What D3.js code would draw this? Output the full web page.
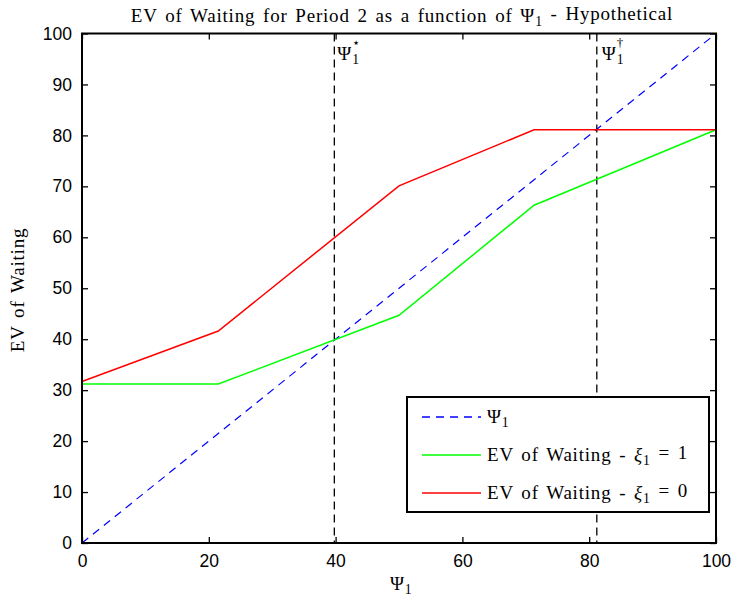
<!DOCTYPE html>
<html><head><meta charset="utf-8">
<script src="https://cdn.jsdelivr.net/npm/d3@7"></script>
<style>
body{margin:0;background:#fff;}
svg{display:block;}
</style></head>
<body>
<svg id="c" width="734" height="604"></svg>
<script>
// ---- data ----
const psiX = [0, 100];
const psiY = [0, 100];
const greenX = [0, 21.5, 50, 71.3, 100];
const greenY = [31.2, 31.2, 44.7, 66.3, 81.1];
const redX = [0, 21.5, 50, 71.3, 100];
const redY = [31.7, 41.6, 70.1, 81.1, 81.1];
const psiStar = 39.8;
const psiDagger = 81.2;
const xTicks = [0, 20, 40, 60, 80, 100];
const yTicks = [0, 10, 20, 30, 40, 50, 60, 70, 80, 90, 100];

const svg = d3.select("#c");
const L = 82, R = 716, T = 33.5, B = 543;
const x = d3.scaleLinear().domain([0, 100]).range([L, R]);
const y = d3.scaleLinear().domain([0, 100]).range([B, T]);
const serif = "'Liberation Serif','DejaVu Serif',serif";
const sans = "'Liberation Sans',Arial,sans-serif";
const LS = 0.8, WS = 2.2;

const line = d3.line().x(d => x(d[0])).y(d => y(d[1]));
const g = svg.append("g");

// vertical dashed lines
[psiStar, psiDagger].forEach(v => {
  g.append("line").attr("x1", x(v)).attr("x2", x(v)).attr("y1", T).attr("y2", B)
    .attr("stroke", "#000").attr("stroke-width", 1.3).attr("stroke-dasharray", "8,5");
});

// series
g.append("path").datum(psiX.map((v, i) => [v, psiY[i]])).attr("d", line)
  .attr("fill", "none").attr("stroke", "#0000ff").attr("stroke-width", 1.2).attr("stroke-dasharray", "8,6");
g.append("path").datum(greenX.map((v, i) => [v, greenY[i]])).attr("d", line)
  .attr("fill", "none").attr("stroke", "#00ff00").attr("stroke-width", 1.5);
g.append("path").datum(redX.map((v, i) => [v, redY[i]])).attr("d", line)
  .attr("fill", "none").attr("stroke", "#ff0000").attr("stroke-width", 1.5);

// axes
const ax = svg.append("g");
ax.append("g").attr("transform", `translate(0,${B})`)
  .call(d3.axisBottom(x).tickValues(xTicks).tickSize(-6).tickPadding(12).tickFormat(d3.format("d")));
ax.append("g").attr("transform", `translate(0,${T})`)
  .call(d3.axisTop(x).tickValues(xTicks).tickSize(-6).tickFormat(""));
ax.append("g").attr("transform", `translate(${L},0)`)
  .call(d3.axisLeft(y).tickValues(yTicks).tickSize(-6).tickPadding(10).tickFormat(d3.format("d")));
ax.append("g").attr("transform", `translate(${R},0)`)
  .call(d3.axisRight(y).tickValues(yTicks).tickSize(-6).tickFormat(""));
ax.selectAll(".domain").remove();
ax.selectAll(".tick line").attr("stroke", "#000").attr("stroke-width", 1.3);
ax.selectAll(".tick text").attr("font-family", sans).attr("font-size", 17.5).attr("fill", "#000");
svg.append("rect").attr("x", L).attr("y", T).attr("width", R - L).attr("height", B - T)
  .attr("fill", "none").attr("stroke", "#000").attr("stroke-width", 2);

function stxt(xx, yy) {
  return svg.append("text").attr("x", xx).attr("y", yy).attr("font-family", serif)
    .attr("font-size", 19).attr("letter-spacing", LS).attr("word-spacing", WS).attr("fill", "#000");
}
function psi(sel) {
  sel.append("tspan").text("Ψ");
  sel.append("tspan").attr("font-size", "0.72em").attr("dy", "0.3em").text("1");
}

// title
const title = stxt(402, 22).attr("text-anchor", "middle");
title.append("tspan").text("EV of Waiting for Period 2 as a function of Ψ");
title.append("tspan").attr("font-size", "0.72em").attr("dy", "0.3em").text("1");
title.append("tspan").attr("dy", "-0.3em").text(" - Hypothetical");

// x label
psi(stxt(390, 590));

// y label
svg.append("text").attr("transform", "translate(24,290) rotate(-90)").attr("text-anchor", "middle")
  .attr("font-family", serif).attr("font-size", 19).attr("letter-spacing", LS).attr("word-spacing", WS)
  .attr("fill", "#000").text("EV of Waiting");

// annotations
[[psiStar, "⋆", 3], [psiDagger, "†", 5]].forEach(([v, s, off]) => {
  const t = stxt(x(v) + off, 60);
  psi(t);
  svg.append("text").attr("x", x(v) + off + 15).attr("y", 47).attr("font-family", serif)
    .attr("font-size", 13).attr("fill", "#000").text(s);
});

// legend
const lg = svg.append("g");
lg.append("rect").attr("x", 407).attr("y", 397).attr("width", 302).attr("height", 115)
  .attr("fill", "#fff").attr("stroke", "#000").attr("stroke-width", 2);
const items = [
  {c: "#0000ff", dash: "8,6", lab: "psi"},
  {c: "#00ff00", dash: null, lab: "1"},
  {c: "#ff0000", dash: null, lab: "0"}
];
items.forEach((it, i) => {
  const yy = 417 + i * 38;
  lg.append("line").attr("x1", 422).attr("x2", 481).attr("y1", yy).attr("y2", yy)
    .attr("stroke", it.c).attr("stroke-width", 1.5).attr("stroke-dasharray", it.dash);
  const t = stxt(487, yy + 6);
  if (it.lab === "psi") psi(t);
  else {
    t.append("tspan").text("EV of Waiting - ");
    t.append("tspan").attr("font-style", "italic").text("ξ");
    t.append("tspan").attr("font-size", "0.72em").attr("dy", "0.3em").text("1");
    t.append("tspan").attr("dy", "-0.3em").text(" = " + it.lab);
  }
});
</script>
</body></html>
